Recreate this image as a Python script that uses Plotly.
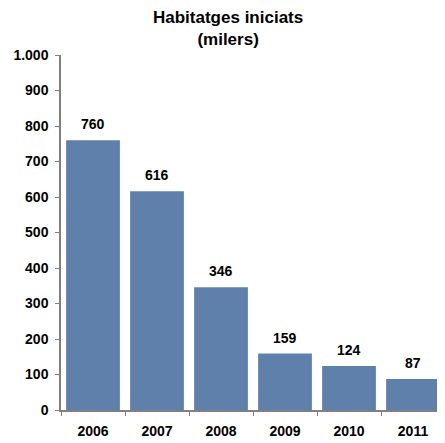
import plotly.graph_objects as go

years = ["2006", "2007", "2008", "2009", "2010", "2011"]
values = [760, 616, 346, 159, 124, 87]
value_labels = ["760", "616", "346", "159", "124", "87"]
y_tickvals = [0, 100, 200, 300, 400, 500, 600, 700, 800, 900, 1000]
y_ticktext = ["0", "100", "200", "300", "400", "500", "600", "700", "800", "900", "1.000"]
title_text = "Habitatges iniciats<br>(milers)"

FONT = "Liberation Sans, Arial, sans-serif"
BAR = "#5E80AA"
AXIS = "#808080"

fig = go.Figure()
fig.add_trace(go.Bar(x=years, y=values, marker=dict(color=BAR, line=dict(width=0)),
                     hoverinfo="skip"))

# category index positions of each year on the category axis
for i, (v, t) in enumerate(zip(values, value_labels)):
    fig.add_annotation(x=i, y=v, xref="x", yref="y", text="<b>%s</b>" % t, showarrow=False,
                       yanchor="bottom", yshift=6,
                       font=dict(family=FONT, size=14, color="black"))

fig.add_annotation(x=(228 - 61) / 384, y=1 + (55 - 28) / 355, xref="paper", yref="paper",
                   text="<b>%s</b>" % title_text, showarrow=False,
                   xanchor="center", yanchor="middle",
                   font=dict(family=FONT, size=17, color="black"))

# the page body has an 8px margin, so the figure is sized/offset to compensate
fig.update_layout(
    width=437, height=435,
    margin=dict(l=53, r=0, t=47, b=33, autoexpand=False),
    paper_bgcolor="white", plot_bgcolor="white",
    bargap=0.16,
    showlegend=False,
    font=dict(family=FONT, size=14, color="black"),
)
fig.update_xaxes(type="category", showline=True, linecolor=AXIS, linewidth=1.5, ticks="outside",
                 tickson="boundaries", ticklen=4, tickcolor=AXIS, tickwidth=1,
                 showgrid=False, tickfont=dict(family=FONT, size=14, color="black"),
                 tickprefix="<b>", ticksuffix="</b>", ticklabelstandoff=7)
fig.update_yaxes(range=[0, 1000], showline=True, linecolor=AXIS, linewidth=1.5,
                 ticks="outside", ticklen=4, tickcolor=AXIS, tickwidth=1,
                 tickvals=y_tickvals, ticktext=["<b>%s</b>" % t for t in y_ticktext],
                 showgrid=False, zeroline=False,
                 tickfont=dict(family=FONT, size=14, color="black"), ticklabelstandoff=4)

fig.write_html("out.html")
